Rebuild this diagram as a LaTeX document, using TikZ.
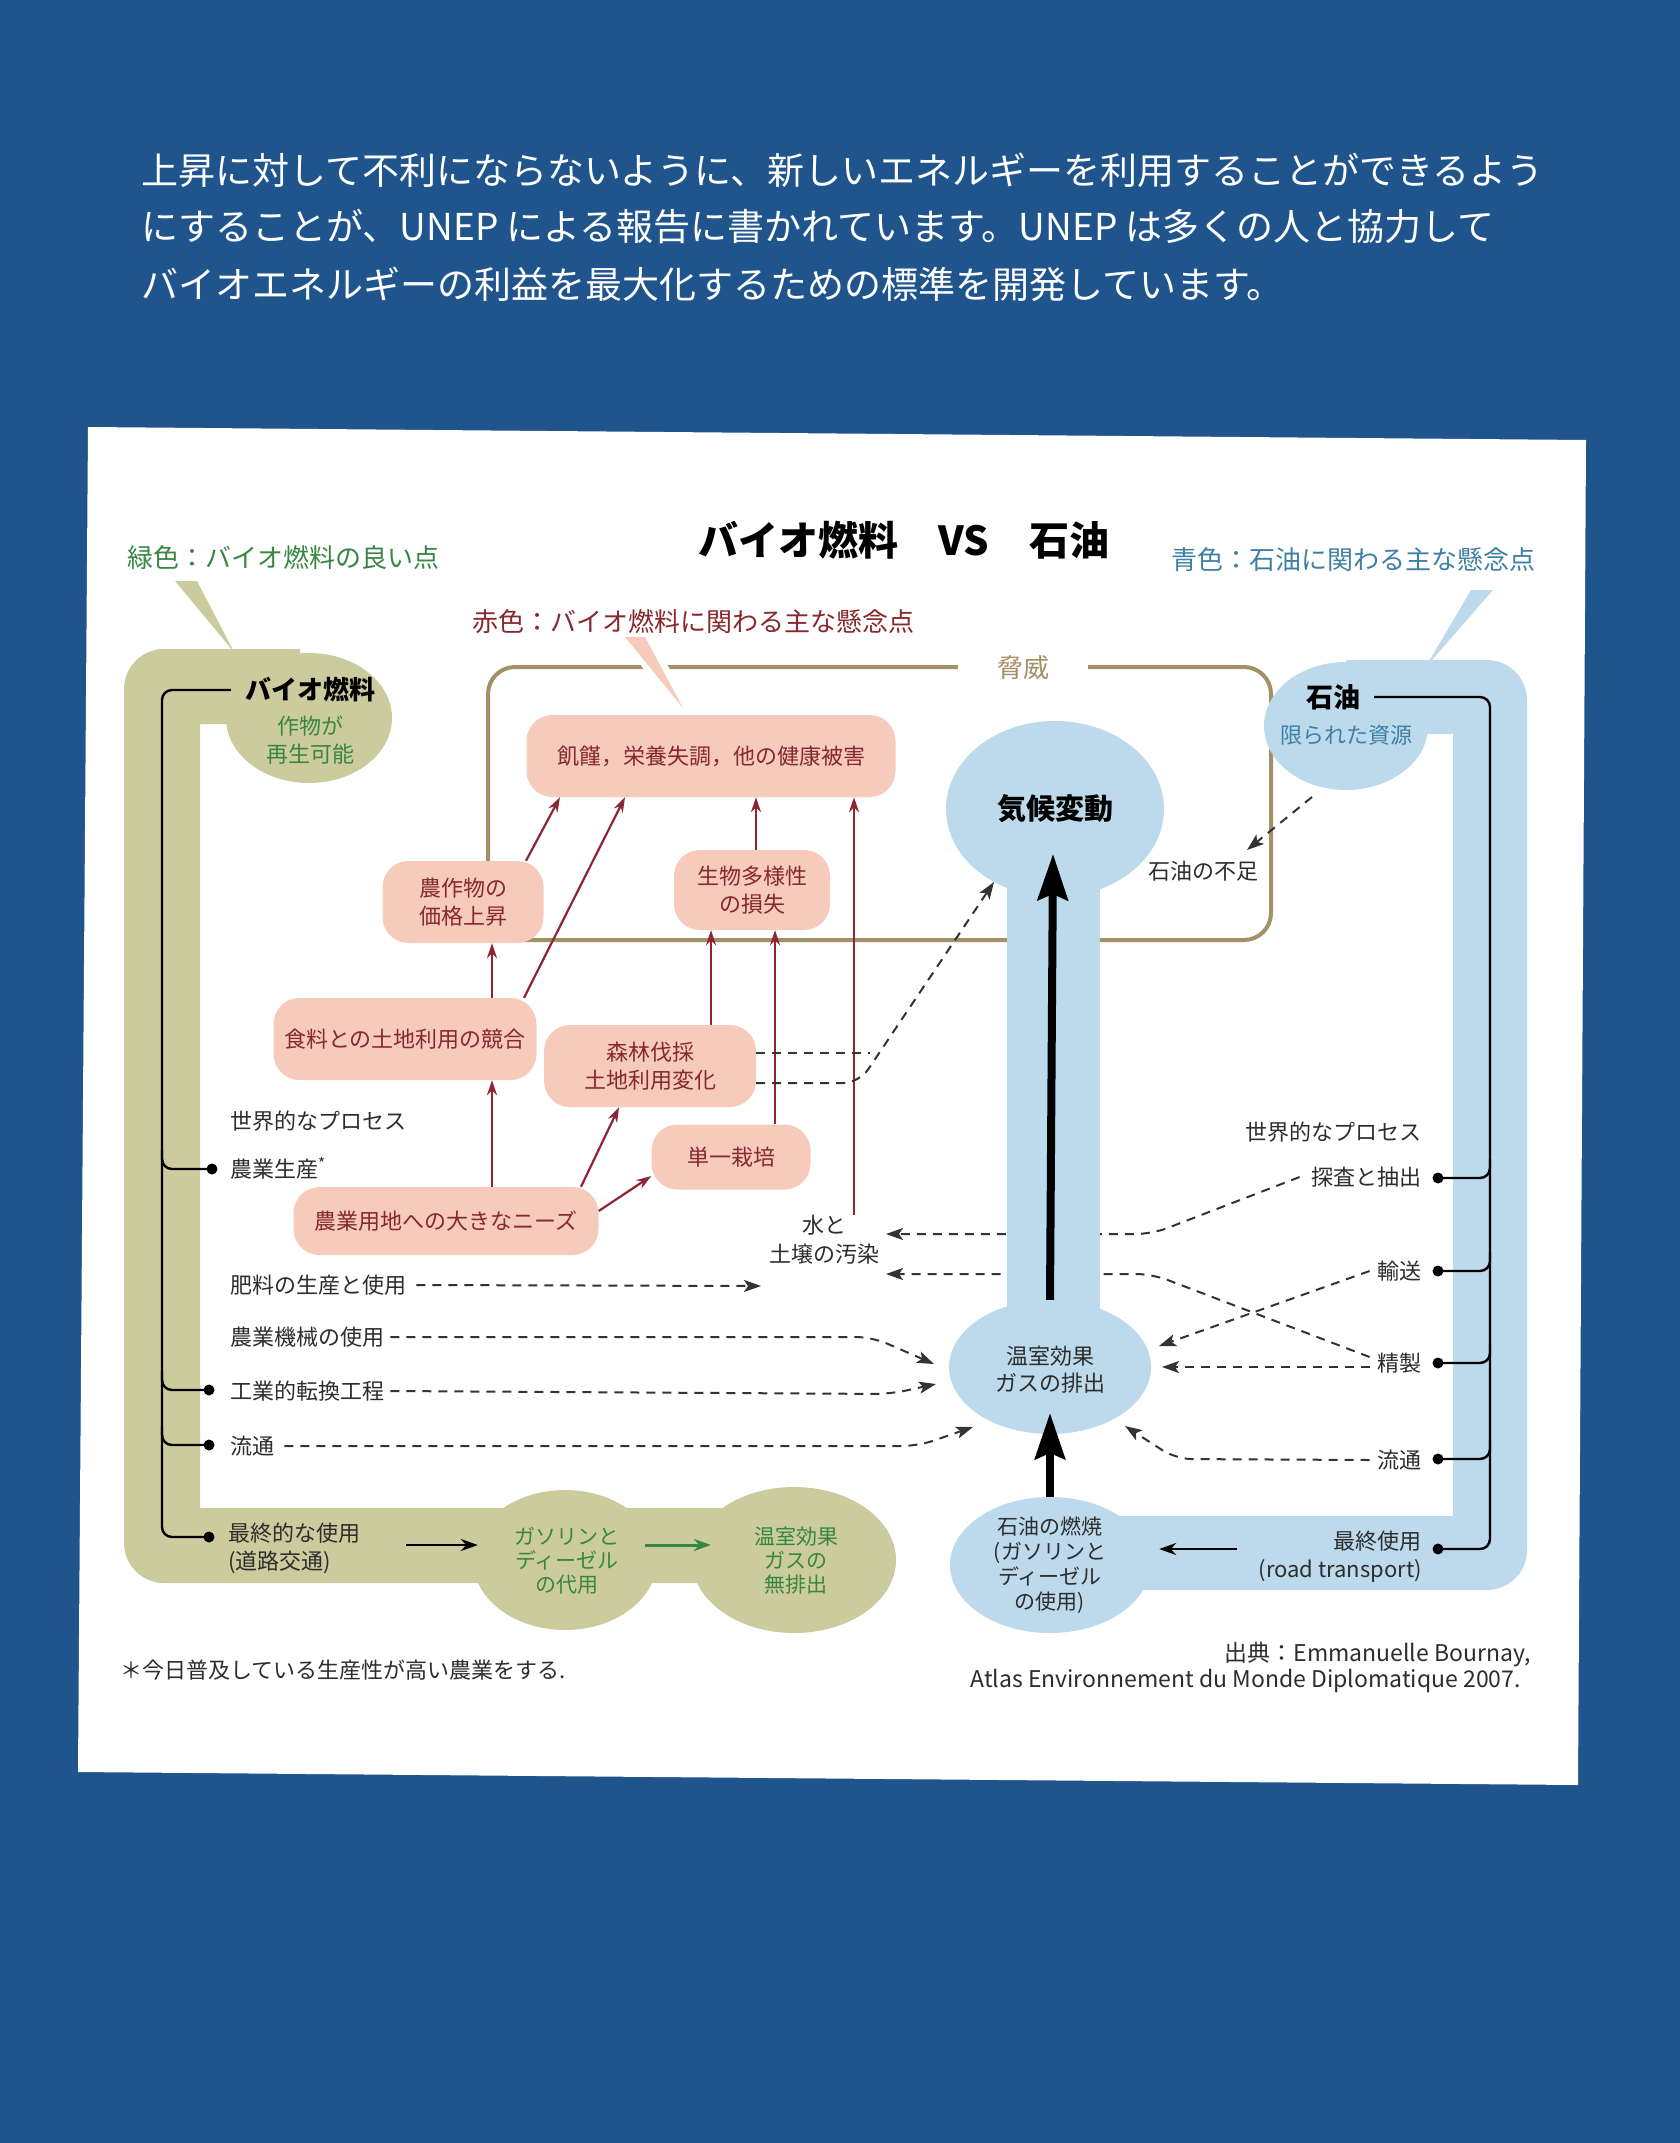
\documentclass[tikz,border=0pt]{standalone}
\usepackage{fontspec}
\setmainfont{Noto Sans CJK JP}
\usetikzlibrary{arrows.meta,positioning,shapes}

\definecolor{pageblue}{RGB}{31,84,140}
\definecolor{biogreen}{RGB}{204,203,158}
\definecolor{greentext}{RGB}{56,134,68}
\definecolor{concernfill}{RGB}{246,203,188}
\definecolor{concerntext}{RGB}{135,40,45}
\definecolor{concernarrow}{RGB}{140,38,52}
\definecolor{threatline}{RGB}{162,144,102}
\definecolor{oilblue}{RGB}{188,218,236}
\definecolor{bluetext}{RGB}{62,128,165}
\definecolor{labelgray}{RGB}{45,45,45}

\begin{document}
\begin{tikzpicture}[x=1pt,y=-1pt,
  headline/.style={anchor=west,text=white,font=\fontsize{37}{44}\selectfont,inner sep=0pt},
  keyText/.style={anchor=west,font=\fontsize{26}{30}\selectfont,inner sep=0pt},
  procText/.style={font=\fontsize{22}{28}\selectfont,text=labelgray,inner sep=0pt},
  concern/.style={rectangle,rounded corners=26pt,fill=concernfill,text=concerntext,align=center,font=\fontsize{22}{28}\selectfont,inner sep=0pt},
  oilBlob/.style={ellipse,fill=oilblue,inner sep=0pt},
  bioBlob/.style={ellipse,fill=biogreen,inner sep=0pt},
  blobText/.style={align=center,inner sep=0pt,font=\fontsize{21}{25}\selectfont},
  redArrow/.style={draw=concernarrow,line width=2.2pt,-{Stealth[length=15pt,width=10pt]}},
  flowDash/.style={draw=black!80,line width=2pt,dash pattern=on 9pt off 7pt,rounded corners=16pt,-{Stealth[length=17pt,width=12pt,inset=4pt]}},
  bigArrow/.style={line width=8pt,-{Stealth[length=46pt,width=30pt,inset=6pt]}},
  bracket/.style={line width=2.4pt,rounded corners=10pt},
  dotMark/.style={circle,fill=black,inner sep=0pt,minimum size=11pt},
  ]
\fill[pageblue] (0,0) rectangle (1680,2143);
\fill[white] (88,427) -- (1586,440) -- (1578,1785) -- (78,1772) -- cycle;
\useasboundingbox (0,0) rectangle (1680,2143);

% text above the panel
\node[headline] (head1) at (141,170) {上昇に対して不利にならないように、新しいエネルギーを利用することができるよう};
\node[headline] (head2) at (141,226) {にすることが、UNEP による報告に書かれています。UNEP は多くの人と協力して};
\node[headline] (head3) at (141,284) {バイオエネルギーの利益を最大化するための標準を開発しています。};

\node[font=\fontsize{40}{48}\selectfont\bfseries] (title) at (904,540) {バイオ燃料　VS　石油};
\node[keyText,text=greentext] (keyGreen) at (127,558) {緑色：バイオ燃料の良い点};
\node[keyText,text=concerntext] (keyRed) at (472,622) {赤色：バイオ燃料に関わる主な懸念点};
\node[keyText,text=bluetext] (keyBlue) at (1171,560) {青色：石油に関わる主な懸念点};

% threat frame
\draw[threatline,line width=4pt,rounded corners=27pt] (488,667) rectangle (1271,940);
\node[fill=white,text=threatline,font=\fontsize{26}{30}\selectfont,inner xsep=39pt,inner ysep=6pt] (threat) at (1023,668) {脅威};
\draw[white,line width=22pt] (644,650) -- (668,686);
\fill[concernfill] (625,637) -- (645,637) -- (683,708) -- cycle;

% concerns of biofuel
\node[concern,minimum width=369pt,minimum height=82pt] (health) at (711,756) {飢饉，栄養失調，他の健康被害};
\node[concern,minimum width=161pt,minimum height=82pt] (price) at (463,902) {農作物の\\価格上昇};
\node[concern,minimum width=156pt,minimum height=80pt] (biod) at (752,890) {生物多様性\\の損失};
\node[concern,minimum width=263pt,minimum height=82pt] (landComp) at (405,1039) {食料との土地利用の競合};
\node[concern,minimum width=212pt,minimum height=82pt] (forest) at (650,1066) {森林伐採\\土地利用変化};
\node[concern,minimum width=159pt,minimum height=65pt] (mono) at (731,1157) {単一栽培};
\node[concern,minimum width=305pt,minimum height=68pt] (landNeed) at (446,1221) {農業用地への大きなニーズ};

\draw[redArrow] ([xshift=46pt]landNeed.north) -- ([xshift=87pt]landComp.south);
\draw[redArrow] ([xshift=87pt]landComp.north) -- ([xshift=29pt]price.south);
\draw[redArrow] ([xshift=63pt]price.north) -- ([xshift=-151pt]health.south);
\draw[redArrow] ([xshift=119pt]landComp.north) -- ([xshift=-86pt]health.south);
\draw[redArrow] ([xshift=4pt]biod.north) -- ([xshift=45pt]health.south);
\draw[redArrow] ([xshift=61pt]forest.north) -- ([xshift=-41pt]biod.south);
\draw[redArrow] ([xshift=44pt]mono.north) -- ([xshift=23pt]biod.south);
\draw[redArrow] ([xshift=135pt]landNeed.north) -- ([xshift=-31pt]forest.south);
\draw[redArrow] ([yshift=10pt]landNeed.east) -- ([yshift=-19pt]mono.west);

% process labels
\node[procText,anchor=west] (worldL) at (230,1121) {世界的なプロセス};
\node[procText,anchor=west] (agriProd) at (230,1168) {農業生産\textsuperscript{*}};
\node[procText,anchor=west] (fert) at (230,1285) {肥料の生産と使用};
\node[procText,anchor=west] (mach) at (230,1337) {農業機械の使用};
\node[procText,anchor=west] (indus) at (230,1391) {工業的転換工程};
\node[procText,anchor=west] (distL) at (230,1446) {流通};
\node[procText,anchor=east] (worldR) at (1422,1132) {世界的なプロセス};
\node[procText,anchor=east] (explo) at (1422,1177) {探査と抽出};
\node[procText,anchor=east] (trans) at (1422,1271) {輸送};
\node[procText,anchor=east] (refine) at (1422,1363) {精製};
\node[procText,anchor=east] (distR) at (1422,1460) {流通};
\node[procText,align=center,font=\fontsize{22}{29}\selectfont] (pollute) at (824,1240) {水と\\土壌の汚染};
\node[procText] (shortage) at (1203,871) {石油の不足};
\draw[redArrow] ([xshift=30pt]pollute.north) -- ([xshift=143pt]health.south);

% end points of the dashed links
\coordinate (polA) at (886,1234);
\coordinate (polB) at (886,1274);
\coordinate (polC) at (761,1286);
\coordinate (ghgA) at (934,1364);
\coordinate (ghgB) at (936,1384);
\coordinate (ghgC) at (973,1427);
\coordinate (ghgD) at (1159,1346);
\coordinate (ghgE) at (1162,1367);
\coordinate (ghgF) at (1125,1426);
\coordinate (climIn) at (994,882);
\coordinate (oilOut) at (1312,797);
\coordinate (shortIn) at (1247,850);

\draw[flowDash] ([xshift=10pt]fert.east) -- (polC);
\draw[flowDash] ([xshift=6pt]mach.east) -- (872,1337) -- (ghgA);
\draw[flowDash] ([xshift=6pt]indus.east) -- (890,1394) -- (ghgB);
\draw[flowDash] ([xshift=10pt]distL.east) -- (918,1446) -- (ghgC);
\draw[flowDash] ([xshift=-12pt]explo.west) -- (1152,1234) -- (polA);
\draw[flowDash] ([xshift=-8pt,yshift=6pt]refine.west) -- (1152,1274) -- (polB);
\draw[flowDash] ([xshift=-8pt]trans.west) -- (ghgD);
\draw[flowDash] ([xshift=-8pt,yshift=-4pt]refine.west) -- (ghgE);
\draw[flowDash] ([xshift=-8pt]distR.west) -- (1176,1459) -- (ghgF);
\draw[flowDash,-] ([yshift=13pt]forest.east) -- (870,1053);
\draw[flowDash] ([yshift=-17pt]forest.east) -- (859,1083) -- (climIn);
\draw[flowDash] (oilOut) -- (shortIn);

% biofuel band
\fill[biogreen] (175,581) -- (197,581) -- (234,652) -- cycle;
\fill[biogreen] (300,649) [rounded corners=40pt] -- (124,649) -- (124,1583) -- (790,1583) [sharp corners] -- (790,1508) -- (200,1508) -- (200,724) -- (300,724) -- cycle;
\node[bioBlob,minimum width=166pt,minimum height=130pt] (bioBlob) at (309,718) {};
\node[bioBlob,minimum width=184pt,minimum height=140pt] (subA) at (565,1560) {};
\node[bioBlob,minimum width=204pt,minimum height=146pt] (subB) at (794,1560) {};

% oil band
\fill[oilblue] (1471,590) -- (1493,590) -- (1425,668) -- cycle;
\fill[oilblue] (1346,660) [rounded corners=40pt] -- (1527,660) -- (1527,1590) -- (1050,1590) [sharp corners] -- (1050,1516) -- (1453,1516) -- (1453,734) -- (1346,734) -- cycle;
\fill[oilblue] (1007,840) rectangle (1100,1320);
\node[oilBlob,minimum width=164pt,minimum height=128pt] (oilBlob) at (1346,726) {};
\node[oilBlob,minimum width=218pt,minimum height=176pt] (climate) at (1055,809) {};
\node[oilBlob,minimum width=202pt,minimum height=134pt] (ghg) at (1050,1367) {};
\node[oilBlob,minimum width=200pt,minimum height=136pt] (burn) at (1050,1565) {};

% blob texts
\node[font=\fontsize{26}{30}\selectfont\bfseries,inner sep=0pt] (bioTitle) at (310,690) {バイオ燃料};
\node[blobText,text=greentext,font=\fontsize{22}{28}\selectfont] (bioNote) at (310,740) {作物が\\再生可能};
\node[blobText,text=greentext,font=\fontsize{21}{24}\selectfont] (subAText) at (567,1561) {ガソリンと\\ディーゼル\\の代用};
\node[blobText,text=greentext,font=\fontsize{21}{24}\selectfont] (subBText) at (796,1561) {温室効果\\ガスの\\無排出};
\node[font=\fontsize{27}{30}\selectfont\bfseries,inner sep=0pt] (oilTitle) at (1333,697) {石油};
\node[blobText,text=bluetext,font=\fontsize{22}{26}\selectfont] (oilNote) at (1346,735) {限られた資源};
\node[font=\fontsize{29}{34}\selectfont\bfseries,inner sep=0pt] (climText) at (1055,809) {気候変動};
\node[blobText,text=labelgray,font=\fontsize{22}{27}\selectfont] (ghgText) at (1050,1370) {温室効果\\ガスの排出};
\node[blobText,text=labelgray,font=\fontsize{21}{25}\selectfont] (burnText) at (1050,1565) {石油の燃焼\\(ガソリンと\\ディーゼル\\の使用)};
\node[procText,anchor=west,align=left] (finalL) at (228,1548) {最終的な使用\\(道路交通)};
\node[procText,anchor=east,align=right] (finalR) at (1422,1557) {最終使用\\(road transport)};

% process brackets
\coordinate (gDot1) at (212,1169);
\coordinate (gDot2) at (209,1390);
\coordinate (gDot3) at (209,1445);
\coordinate (gDot4) at (209,1537);
\draw[bracket] ([xshift=-14pt]bioTitle.west) -- (162,690) -- (162,1537) -- (gDot4);
\draw[bracket] (162,1150) |- (gDot1);
\draw[bracket] (162,1371) |- (gDot2);
\draw[bracket] (162,1426) |- (gDot3);
\foreach \d in {gDot1,gDot2,gDot3,gDot4} \node[dotMark] at (\d) {};

\coordinate (oDot1) at (1438,1178);
\coordinate (oDot2) at (1438,1271);
\coordinate (oDot3) at (1438,1363);
\coordinate (oDot4) at (1438,1459);
\coordinate (oDot5) at (1438,1549);
\draw[bracket] ([xshift=14pt]oilTitle.east) -- (1490,697) -- (1490,1549) -- (oDot5);
\draw[bracket] (1490,1159) |- (oDot1);
\draw[bracket] (1490,1252) |- (oDot2);
\draw[bracket] (1490,1344) |- (oDot3);
\draw[bracket] (1490,1440) |- (oDot4);
\foreach \d in {oDot1,oDot2,oDot3,oDot4,oDot5} \node[dotMark] at (\d) {};

% main arrows
\coordinate (climIn2) at (1053,854);
\coordinate (ghgIn) at (1050,1413);
\draw[bigArrow] (ghg.north) -- (climIn2);
\draw[bigArrow] (burn.north) -- (ghgIn);
\draw[line width=2.6pt,-{Stealth[length=17pt,width=12pt]}] ([xshift=46pt,yshift=3pt]finalL.east) -- ([xshift=5pt,yshift=15pt]subA.west);
\draw[greentext,line width=3pt,-{Stealth[length=17pt,width=12pt]}] ([xshift=-12pt,yshift=15pt]subA.east) -- ([xshift=19pt,yshift=15pt]subB.west);
\draw[line width=2.6pt,-{Stealth[length=17pt,width=12pt]}] ([xshift=87pt,yshift=16pt]burn.east) -- ([xshift=9pt,yshift=16pt]burn.east);

% notes
\node[procText,anchor=west,font=\fontsize{22}{26}\selectfont] (footNote) at (120,1670) {＊今日普及している生産性が高い農業をする.};
\node[procText,anchor=east,font=\fontsize{23}{27}\selectfont] (src1) at (1531,1654) {出典：Emmanuelle Bournay,};
\node[procText,anchor=east,font=\fontsize{23}{27}\selectfont] (src2) at (1521,1681) {Atlas Environnement du Monde Diplomatique 2007.};
\end{tikzpicture}
\end{document}
